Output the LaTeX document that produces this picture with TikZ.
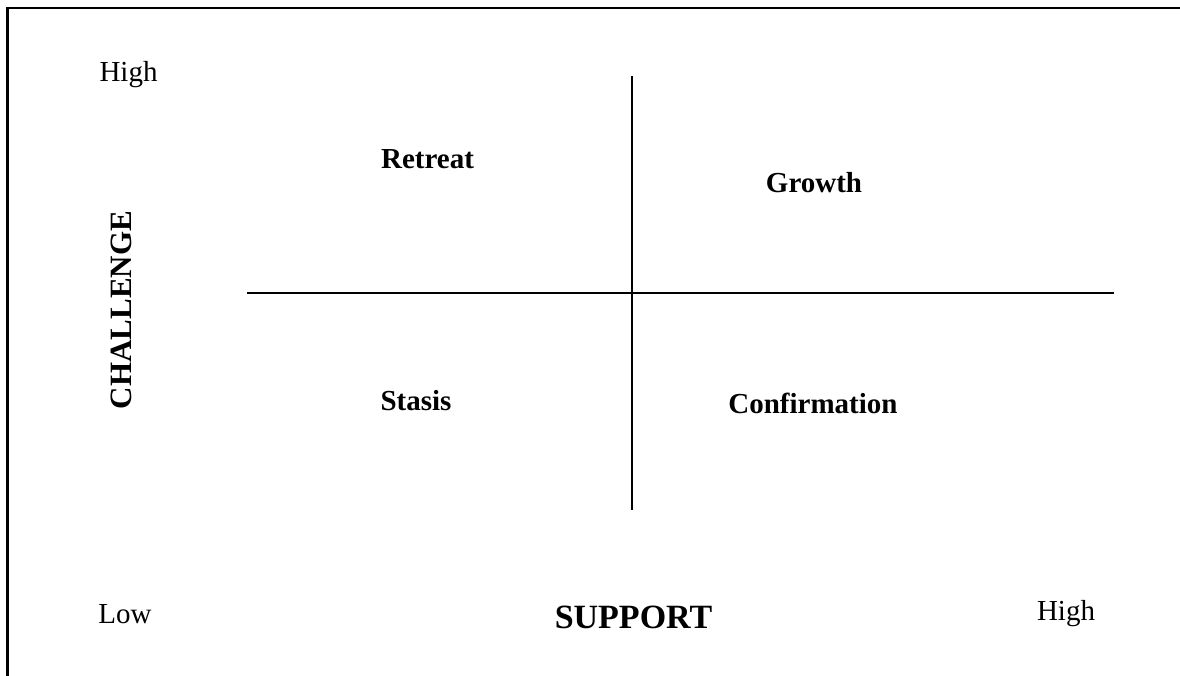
\documentclass[tikz,border=0pt]{standalone}
\usepackage{fontspec}
\setmainfont{Liberation Serif}
\begin{document}
\begin{tikzpicture}[x=1pt,y=-1pt,
  lbl/.style={inner sep=0pt,anchor=base,font=\fontsize{29}{32}\selectfont},
  quad/.style={inner sep=0pt,anchor=base,font=\fontsize{29}{32}\selectfont\bfseries},
  axis/.style={line width=2pt,black},
  frameline/.style={line width=2.2pt,black}]
\useasboundingbox (0,0) rectangle (1180,676);
% frame (left and top only)
\coordinate (fbl) at (7.5,676);
\coordinate (ftl) at (7.5,8);
\coordinate (ftr) at (1180,8);
\draw[frameline] (fbl) -- (ftl) -- (ftr);
% axes
\coordinate (hl) at (247,293);
\coordinate (hr) at (1114,293);
\coordinate (vt) at (632,76);
\coordinate (vb) at (632,510);
\draw[axis] (hl) -- (hr);
\draw[axis] (vt) -- (vb);
% labels
\node[lbl] (hightl) at (128.5,82) {High};
\node[lbl] (low) at (125,623) {Low};
\node[lbl] (highbr) at (1066,620) {High};
\node[quad] (retreat) at (427.5,169) {Retreat};
\node[quad] (growth) at (814,193) {Growth};
\node[quad] (stasis) at (416,410) {Stasis};
\node[quad] (confirm) at (813,413) {Confirmation};
\node[inner sep=0pt,anchor=base,font=\fontsize{34}{38}\selectfont\bfseries] (support) at (633.5,628) {SUPPORT};
\node[inner sep=0pt,anchor=base,rotate=90,font=\fontsize{31}{34}\selectfont\bfseries] (challenge) at (131,310) {CHALLENGE};
\end{tikzpicture}
\end{document}
